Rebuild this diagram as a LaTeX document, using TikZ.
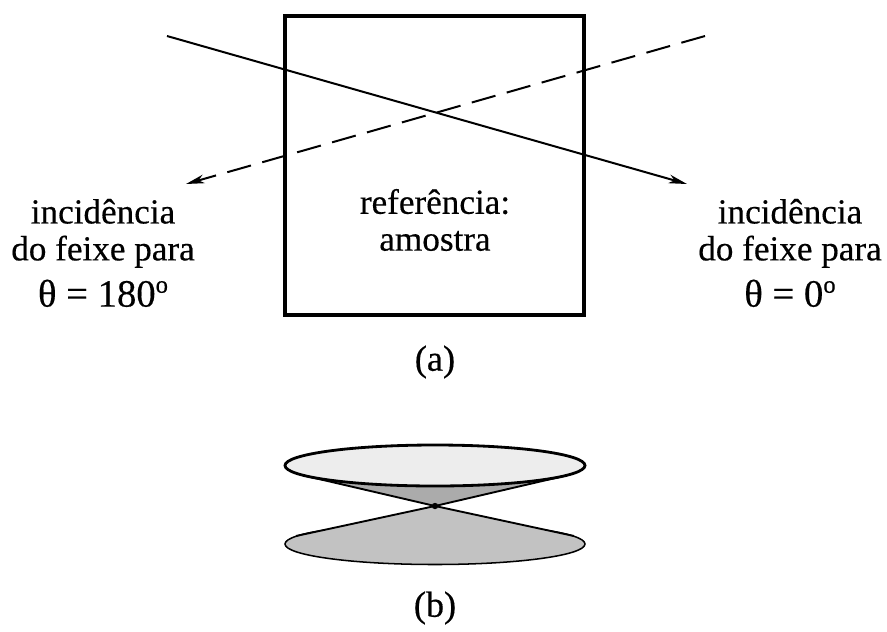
\documentclass[tikz,border=0pt]{standalone}
\usepackage{fontspec}
\setmainfont[FakeBold=0.4]{Liberation Serif}
\usetikzlibrary{arrows.meta, shapes.geometric}
\newcommand{\anglefont}{\fontsize{33}{33}\selectfont}
\newcommand{\degmark}{\raisebox{0.36em}{\fontsize{21}{21}\selectfont o}}
\tikzset{
  every picture/.style={x=0.03cm, y=-0.03cm},
  label/.style={font=\fontsize{30}{31.5}\selectfont, align=center, inner sep=0pt},
  caption/.style={font=\fontsize{31}{33}\selectfont, inner sep=0pt},
  beam/.style={-{Stealth[length=5.5mm, width=2.6mm, inset=1.6mm]}, line width=1.7pt},
  disc/.style={ellipse, draw, inner sep=0pt, minimum width=9cm, minimum height=1.23cm},
}
\begin{document}
\begin{tikzpicture}
  \useasboundingbox (0,0) rectangle (887,631);
  % (a) sample square and the two beams
  \node[draw, line width=3pt, minimum size=8.97cm, inner sep=0pt] (sample) at (434.5,165.5) {};
  \coordinate (solidin) at (167,36);
  \coordinate (solidout) at (687,184);
  \coordinate (dashin) at (705,36);
  \coordinate (dashout) at (186,184);
  \draw[beam] (solidin) -- (solidout);
  \draw[beam, dash pattern=on 21pt off 10pt] (dashin) -- (dashout);
  \node[label] (reflabel) at (435,220) {referência:\\amostra};
  \node[label] (leftlabel) at (103,253) {incidência\\do feixe para\\[8pt]{\anglefont θ = 180\degmark}};
  \node[label] (rightlabel) at (790,253) {incidência\\do feixe para\\[8pt]{\anglefont θ = 0\degmark}};
  \node[caption] (capa) at (435,362) {(a)};
  % (b) double cone
  \coordinate (apex) at (435,506);
  \fill[black!33] (306,476) -- (apex) -- (564,476) -- cycle;
  \draw[line width=1.6pt] (306,476) -- (apex) -- (564,476);
  \node[disc, fill=black!7, line width=2.4pt] (topdisc) at (435,465.5) {};
  \node[disc, fill=black!24, line width=1.3pt] (lowdisc) at (435,544) {};
  \fill[black!24] (296,536) -- (apex) -- (574,536) -- cycle;
  \draw[line width=1.6pt] (296,536) -- (apex) -- (574,536);
  \fill (apex) circle (3.2);
  \node[caption] (capb) at (435,608) {(b)};
\end{tikzpicture}
\end{document}
